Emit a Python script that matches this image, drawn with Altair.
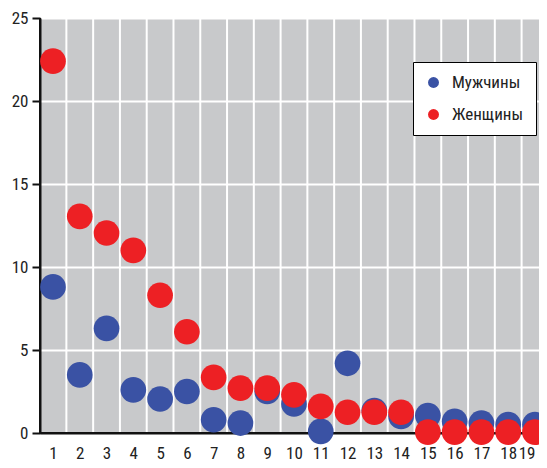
import altair as alt
import pandas as pd

categories = list(range(1, 20))
men = [8.8, 3.5, 6.3, 2.6, 2.05, 2.5, 0.8, 0.6, 2.5, 1.75, 0.1, 4.2, 1.35, 1.0, 1.05, 0.7, 0.6, 0.5, 0.5]
women = [22.4, 13.05, 12.05, 11.0, 8.3, 6.1, 3.35, 2.7, 2.7, 2.3, 1.6, 1.25, 1.25, 1.25, 0.05, 0.05, 0.05, 0.05, 0.05]
series = ["Мужчины", "Женщины"]
colors = ["#3a52a4", "#ed2024"]
x_min, x_max = 0.515, 19.15

FONT = "Liberation Sans Narrow, Roboto Condensed, Arial Narrow, Liberation Sans, sans-serif"

rows = []
for i, c in enumerate(categories):
    rows.append({"cat": c, "val": men[i], "series": series[0], "ord": 0})
for i, c in enumerate(categories):
    rows.append({"cat": c, "val": women[i], "series": series[1], "ord": 1})
df = pd.DataFrame(rows)

bounds = pd.DataFrame({"b": [c + 0.5 for c in categories[:-1]]})

xscale = alt.Scale(domain=[x_min, x_max], nice=False, zero=False)
yscale = alt.Scale(domain=[0, 25], nice=False)

xaxis = alt.Axis(values=categories, format="d", ticks=False, grid=False, domain=True,
                 domainColor="#111111", domainWidth=2, domainOpacity=1, labelPadding=12,
                 labelOverlap=False, labelFlush=6,
                 labelFontSize=17, labelColor="#222", labelFont=FONT, title=None)
yaxis = alt.Axis(values=[0, 5, 10, 15, 20, 25], grid=True, gridColor="white", domain=True,
                 gridWidth=2, gridOpacity=1, domainColor="#111111", domainWidth=2, domainOpacity=1,
                 tickColor="#111111", tickWidth=2, tickSize=8, tickOpacity=1, labelPadding=4,
                 labelOverlap=False,
                 labelFontSize=17, labelColor="#222", labelFont=FONT, title=None)

vgrid = alt.Chart(bounds).mark_rule(color="white", strokeWidth=2).encode(
    x=alt.X("b:Q", scale=xscale, axis=xaxis)
)

base_line = alt.Chart(bounds).mark_rule(color="#111111", strokeWidth=2).encode(
    y=alt.datum(0, scale=yscale, axis=yaxis)
)
left_line = alt.Chart(bounds).mark_rule(color="#111111", strokeWidth=2).encode(
    x=alt.datum(x_min, scale=xscale, axis=xaxis)
)

points = alt.Chart(df).mark_circle(size=660, opacity=1).encode(
    x=alt.X("cat:Q", scale=xscale, axis=xaxis),
    y=alt.Y("val:Q", scale=yscale, axis=yaxis),
    color=alt.Color("series:N", scale=alt.Scale(domain=series, range=colors),
                    legend=alt.Legend(orient="none", legendX=373, legendY=44, title=None,
                                      fillColor="white", strokeColor="black", padding=12,
                                      symbolType="circle", symbolSize=120, symbolStrokeWidth=0,
                                      labelFontSize=17, labelFont=FONT, labelColor="#222",
                                      rowPadding=14, labelOffset=10)),
    order=alt.Order("ord:Q"),
)

chart = alt.layer(vgrid, base_line, left_line, points).properties(
    width=499, height=415,
    padding={"left": 32, "top": 10, "right": 0, "bottom": 28},
    autosize="none",
).configure_view(fill="#c8c9cb", stroke=None)

chart.save("out.html", embed_options={"renderer": "svg", "actions": False})
